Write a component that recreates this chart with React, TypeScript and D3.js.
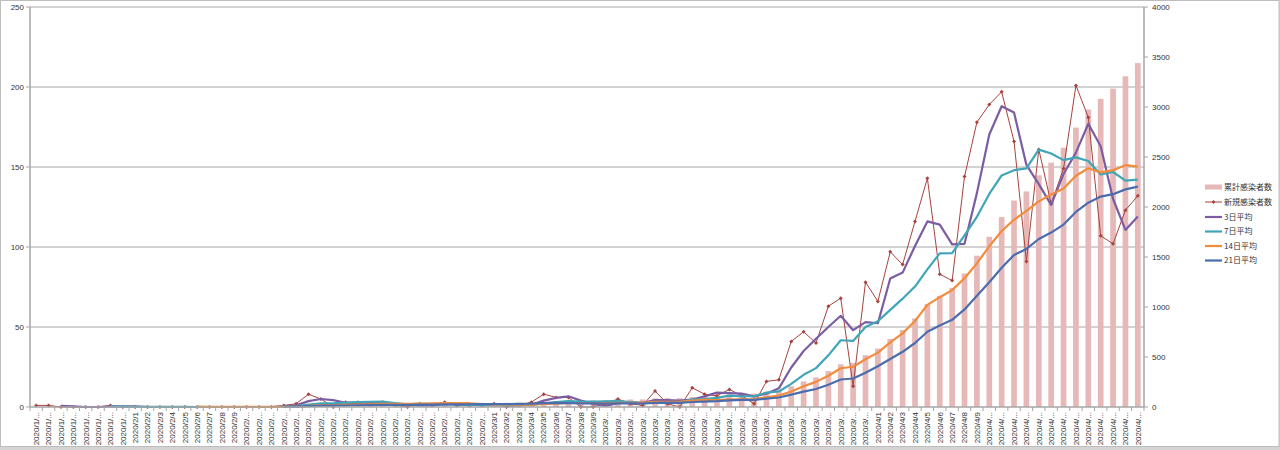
import React from "react";
import * as d3 from "d3";

// ---- categories (1/24 .. 4/22) ----
const dates: string[] = [
  "2020/1/24","2020/1/25","2020/1/26","2020/1/27","2020/1/28","2020/1/29","2020/1/30","2020/1/31",
  "2020/2/1","2020/2/2","2020/2/3","2020/2/4","2020/2/5","2020/2/6","2020/2/7","2020/2/8","2020/2/9","2020/2/10",
  "2020/2/11","2020/2/12","2020/2/13","2020/2/14","2020/2/15","2020/2/16","2020/2/17","2020/2/18","2020/2/19","2020/2/20",
  "2020/2/21","2020/2/22","2020/2/23","2020/2/24","2020/2/25","2020/2/26","2020/2/27","2020/2/28","2020/2/29",
  "2020/3/1","2020/3/2","2020/3/3","2020/3/4","2020/3/5","2020/3/6","2020/3/7","2020/3/8","2020/3/9","2020/3/10",
  "2020/3/11","2020/3/12","2020/3/13","2020/3/14","2020/3/15","2020/3/16","2020/3/17","2020/3/18","2020/3/19","2020/3/20",
  "2020/3/21","2020/3/22","2020/3/23","2020/3/24","2020/3/25","2020/3/26","2020/3/27","2020/3/28","2020/3/29","2020/3/30","2020/3/31",
  "2020/4/1","2020/4/2","2020/4/3","2020/4/4","2020/4/5","2020/4/6","2020/4/7","2020/4/8","2020/4/9","2020/4/10",
  "2020/4/11","2020/4/12","2020/4/13","2020/4/14","2020/4/15","2020/4/16","2020/4/17","2020/4/18","2020/4/19","2020/4/20",
  "2020/4/21","2020/4/22",
];

// 累計感染者数 (right axis)
const cumulative: number[] = [
  1,2,2,2,2,2,3,3,
  3,3,3,3,3,3,3,3,3,3,3,3,4,6,14,19,19,22,25,27,30,31,31,33,34,37,38,39,40,
  42,42,43,46,54,60,66,66,66,68,73,75,76,86,88,88,100,108,115,126,133,135,151,168,209,256,296,359,427,440,518,
  584,681,770,886,1029,1112,1191,1335,1513,1702,1899,2065,2156,2317,2444,2593,2794,2975,3082,3184,3307,3439,
];

// 新規感染者数 (left axis)
const newCases: number[] = [
  1,1,0,0,0,0,1,0,
  0,0,0,0,0,0,0,0,0,0,0,0,1,2,8,5,0,3,3,2,3,1,0,2,1,3,1,1,1,
  2,0,1,3,8,6,6,0,0,2,5,2,1,10,2,0,12,8,7,11,7,2,16,17,41,47,40,63,68,13,78,
  66,97,89,116,143,83,79,144,178,189,197,166,91,161,127,149,201,181,107,102,123,132,
];

// 3日平均
const avg3: (number | null)[] = [
  null,null,0.67,0.33,0,0,0.33,0.33,
  0.33,0,0,0,0,0,0,0,0,0,0,0,0.33,1,3.67,5,4.33,2.67,2,2.67,2.67,2,1.33,1,1,2,1.67,1.67,1,
  1.33,1,1,1.33,4,5.67,6.67,4,2,0.67,2.33,3,2.67,4.33,4.33,4,4.67,6.67,9,8.67,8.33,6.67,8.33,11.67,24.67,35,42.67,50,57,48,53,
  52.33,80.33,84,100.67,116,114,101.67,102,133.67,170.33,188,184,151.33,139.33,126.33,145.67,159,177,163,130,110.67,119,
];

// 7日平均
const avg7: (number | null)[] = [
  null,null,null,null,null,null,0.43,0.29,
  0.14,0.14,0.14,0.14,0.14,0,0,0,0,0,0,0,0.14,0.43,1.57,2.29,2.29,2.71,3.14,3.29,3.43,2.43,1.71,2,1.71,1.71,1.57,1.29,1.29,
  1.57,1.29,1.29,1.29,2.29,3,3.71,3.43,3.43,3.57,3.86,3,2.29,2.86,3.14,3.14,4.57,5,5.71,7.14,6.71,6.71,9,9.71,14.43,20.14,24.29,32.29,41.71,41.29,50,
  53.57,60.71,67.71,75.29,86,96,96.14,107.29,118.86,133.14,144.71,148,149.14,160.86,158.43,154.29,156,153.71,145.29,146.86,141.43,142.14,
];

// 14日平均
const avg14: (number | null)[] = [
  null,null,null,null,null,null,null,null,
  null,null,null,null,null,0.21,0.14,0.07,0.07,0.07,0.07,0.07,0.07,0.21,0.79,1.14,1.14,1.36,1.57,1.71,1.93,2,2,2.14,2.21,2.43,2.43,2.36,1.86,
  1.64,1.64,1.5,1.5,1.93,2.14,2.5,2.5,2.36,2.43,2.57,2.64,2.64,3.29,3.29,3.29,4.07,4.43,4.36,4.71,4.79,4.93,6.07,7.14,9.71,12.93,15.71,19.5,24.21,25.14,29.86,
  34,40.43,46,53.79,63.86,68.64,73.07,80.43,89.79,100.43,110,117,122.57,128.5,132.86,136.57,144.57,149.21,146.64,148,151.14,150.29,
];

// 21日平均
const avg21: (number | null)[] = [
  null,null,null,null,null,null,null,null,
  null,null,null,null,null,null,null,null,null,null,null,null,0.19,0.24,0.57,0.81,0.81,0.95,1.1,1.14,1.29,1.33,1.33,1.43,1.48,1.62,1.67,1.71,1.76,
  1.86,1.86,1.9,2.05,2.38,2.57,2.48,2.24,2.24,2.19,2.29,2.29,2.19,2.62,2.71,2.62,3.14,3.38,3.67,4.14,4.43,4.43,5.19,5.95,7.76,9.62,11.24,13.95,17.19,17.81,21.43,
  25.5,30,34.5,40,47,51,54.5,61,69.5,78,87,95,98.8,105,109,114,121.9,127.7,131.5,133,136,137.7,
];

const leftTicks = [0, 50, 100, 150, 200, 250];
const rightTicks = [0, 500, 1000, 1500, 2000, 2500, 3000, 3500, 4000];
const legendLabels = ["累計感染者数", "新規感染者数", "3日平均", "7日平均", "14日平均", "21日平均"];

const W = 1280;
const H = 450;
const PL = 30;
const PR = 1144;
const PT = 7;
const PB = 407;

const C_BAR = "#E6B9B8";
const C_NEW = "#A8423F";
const C_3 = "#7B5DA3";
const C_7 = "#3FA6B8";
const C_14 = "#F28C3A";
const C_21 = "#4A6DAE";

const FONT = "'Liberation Sans', Arial, sans-serif";
const FONT_JP = "'Noto Sans CJK JP', 'Liberation Sans', sans-serif";

function shortLabel(s: string) {
  return s.length > 8 ? s.slice(0, 7) + "..." : s;
}

export default function App() {
  const x = d3.scaleBand<string>().domain(dates).range([PL, PR]).padding(0);
  const yL = d3.scaleLinear().domain([0, 250]).range([PB, PT]);
  const yR = d3.scaleLinear().domain([0, 4000]).range([PB, PT]);
  const bw = x.bandwidth();
  const cx = (i: number) => (x(dates[i]) as number) + bw / 2;
  const barW = bw * 0.46;

  const mkLine = (vals: (number | null)[]) =>
    d3
      .line<number | null>()
      .defined((v) => v != null)
      .x((_, i) => cx(i))
      .y((v) => yL(v as number))(vals) || "";

  const series = [
    { vals: avg3, color: C_3, w: 2.2 },
    { vals: avg7, color: C_7, w: 2.2 },
    { vals: avg14, color: C_14, w: 2.2 },
    { vals: avg21, color: C_21, w: 2.2 },
  ];

  const legendY = [187, 202, 217, 231.5, 246, 260.5];
  const lx0 = 1205;
  const lx1 = 1222;

  return (
    <svg
      width={W}
      height={H}
      style={{ position: "absolute", left: 0, top: 0, display: "block" }}
    >
      <rect x={0} y={0} width={W} height={H} fill="#d4d4d4" />
      <rect x={0.5} y={0.5} width={W - 1.5} height={446} fill="#ffffff" stroke="#bdbdbd" />

      {/* gridlines */}
      {leftTicks.filter((t) => t > 0).map((t) => (
        <line key={"g" + t} x1={PL} x2={PR} y1={yL(t)} y2={yL(t)} stroke="#a6a6a6" strokeWidth={1} />
      ))}

      {/* bars: cumulative */}
      {cumulative.map((v, i) => (
        <rect
          key={"b" + i}
          x={cx(i) - barW / 2}
          y={yR(v)}
          width={barW}
          height={PB - yR(v)}
          fill={C_BAR}
        />
      ))}

      {/* new cases line */}
      <path d={mkLine(newCases)} fill="none" stroke={C_NEW} strokeWidth={1} />
      {newCases.map((v, i) => (
        <path
          key={"m" + i}
          d={`M${cx(i)},${yL(v) - 2}L${cx(i) + 2},${yL(v)}L${cx(i)},${yL(v) + 2}L${cx(i) - 2},${yL(v)}Z`}
          fill={C_NEW}
        />
      ))}

      {series.map((s, k) => (
        <path key={"s" + k} d={mkLine(s.vals)} fill="none" stroke={s.color} strokeWidth={s.w} strokeLinejoin="round" />
      ))}

      {/* axes */}
      <line x1={PL} x2={PL} y1={PT} y2={PB} stroke="#a6a6a6" strokeWidth={1.5} />
      <line x1={PR} x2={PR} y1={PT} y2={PB} stroke="#a6a6a6" strokeWidth={1.5} />
      <line x1={PL} x2={PR} y1={PB} y2={PB} stroke="#a6a6a6" strokeWidth={1.5} />

      {leftTicks.map((t) => (
        <g key={"lt" + t}>
          <line x1={PL - 4} x2={PL} y1={yL(t)} y2={yL(t)} stroke="#a6a6a6" />
          <text x={24} y={yL(t)} dy="0.35em" textAnchor="end" fontSize={8} fontFamily={FONT} fill="#333">
            {t}
          </text>
        </g>
      ))}

      {rightTicks.map((t) => (
        <g key={"rt" + t}>
          <line x1={PR} x2={PR + 4} y1={yR(t)} y2={yR(t)} stroke="#a6a6a6" />
          <text x={1152} y={yR(t)} dy="0.35em" textAnchor="start" fontSize={8} fontFamily={FONT} fill="#333">
            {t}
          </text>
        </g>
      ))}

      {/* x ticks */}
      {dates.map((d, i) => (
        <line key={"xt" + i} x1={x(d) as number} x2={x(d) as number} y1={PB} y2={PB + 4} stroke="#a6a6a6" />
      ))}
      <line x1={PR} x2={PR} y1={PB} y2={PB + 4} stroke="#a6a6a6" />

      {dates.map((d, i) => (
        <text
          key={"xl" + i}
          transform={`translate(${cx(i)},${PB + 5}) rotate(-90)`}
          dy="0.35em"
          textAnchor="end"
          fontSize={8}
          fontFamily={FONT}
          fill="#333"
        >
          {shortLabel(d)}
        </text>
      ))}

      {/* legend */}
      <rect x={lx0} y={legendY[0] - 2.5} width={lx1 - lx0} height={5} fill={C_BAR} />
      <line x1={lx0} x2={lx1} y1={legendY[1]} y2={legendY[1]} stroke={C_NEW} strokeWidth={1} />
      <path
        d={`M${(lx0 + lx1) / 2},${legendY[1] - 2}L${(lx0 + lx1) / 2 + 2},${legendY[1]}L${(lx0 + lx1) / 2},${legendY[1] + 2}L${(lx0 + lx1) / 2 - 2},${legendY[1]}Z`}
        fill={C_NEW}
      />
      {series.map((s, k) => (
        <line key={"ll" + k} x1={lx0} x2={lx1} y1={legendY[k + 2]} y2={legendY[k + 2]} stroke={s.color} strokeWidth={2.2} />
      ))}
      {legendLabels.map((t, k) => (
        <text key={"lg" + k} x={lx1 + 2} y={legendY[k]} dy="0.35em" fontSize={8} fontFamily={FONT_JP} fill="#333">
          {t}
        </text>
      ))}
    </svg>
  );
}
